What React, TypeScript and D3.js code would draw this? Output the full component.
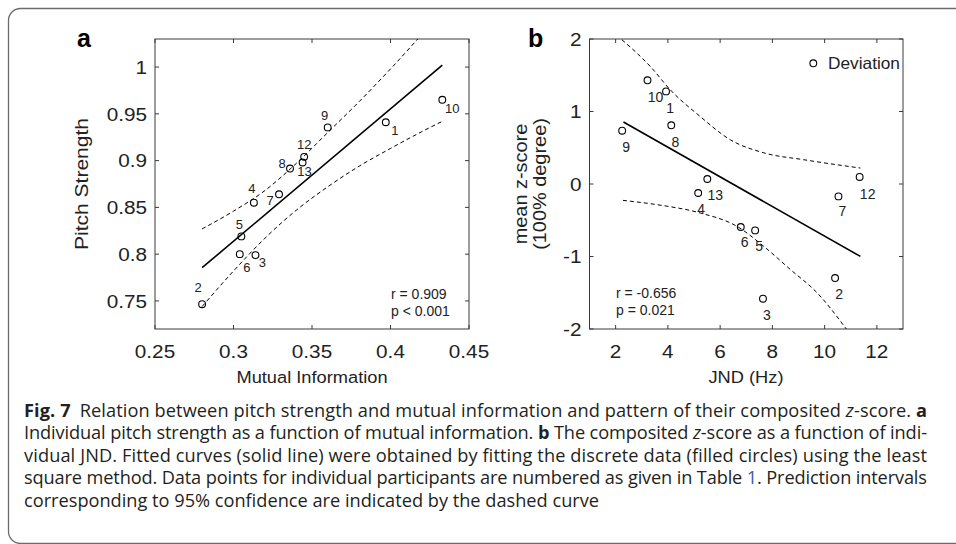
import React from "react";
import * as d3 from "d3";

// ---------- Panel a data ----------
const aIds = [1, 2, 3, 4, 5, 6, 7, 8, 9, 10, 12, 13];
const aMutualInfo = [0.397, 0.28, 0.314, 0.313, 0.305, 0.304, 0.329, 0.336, 0.36, 0.433, 0.345, 0.344];
const aPitchStrength = [0.941, 0.7465, 0.799, 0.855, 0.819, 0.8, 0.864, 0.8915, 0.9355, 0.965, 0.904, 0.898];
const aFitX = [0.28, 0.433];
const aFitY = [0.7855, 1.002];
const aBandX = [0.28, 0.3, 0.32, 0.34, 0.36, 0.38, 0.4, 0.42, 0.433];
const aUpperY = [0.827, 0.846, 0.868, 0.897, 0.93, 0.963, 0.998, 1.035, 1.06];
const aLowerY = [0.744, 0.782, 0.817, 0.847, 0.872, 0.894, 0.913, 0.931, 0.942];
const aXTicks = [0.25, 0.3, 0.35, 0.4, 0.45];
const aXTickLabels = ["0.25", "0.3", "0.35", "0.4", "0.45"];
const aYTicks = [0.75, 0.8, 0.85, 0.9, 0.95, 1];
const aYTickLabels = ["0.75", "0.8", "0.85", "0.9", "0.95", "1"];
const aStats = ["r = 0.909", "p < 0.001"];

// ---------- Panel b data ----------
const bIds = [1, 2, 3, 4, 5, 6, 7, 8, 9, 10, 12, 13];
const bJND = [3.93, 10.4, 7.64, 5.16, 7.34, 6.79, 10.53, 4.13, 2.25, 3.22, 11.34, 5.51];
const bZScore = [1.277, -1.297, -1.582, -0.124, -0.64, -0.593, -0.171, 0.81, 0.735, 1.43, 0.097, 0.069];
const bFitX = [2.3, 11.37];
const bFitY = [0.855, -0.999];
const bUpperX = [2.24, 3.33, 4.09, 5.24, 6.39, 7.67, 9.2, 11.37];
const bUpperY = [1.99, 1.62, 1.3, 0.93, 0.61, 0.43, 0.335, 0.22];
const bLowerX = [2.28, 3.58, 5.24, 6.65, 7.67, 8.69, 9.71, 10.83];
const bLowerY = [-0.226, -0.285, -0.4, -0.585, -0.86, -1.18, -1.5, -2.0];
const bXTicks = [2, 4, 6, 8, 10, 12];
const bXTickLabels = ["2", "4", "6", "8", "10", "12"];
const bYTicks = [-2, -1, 0, 1, 2];
const bYTickLabels = ["-2", "-1", "0", "1", "2"];
const bStats = ["r = -0.656", "p = 0.021"];
const bLegend = "Deviation";

// ---------- caption ----------
const captionLines = [
  [
    { t: "Fig. 7", b: true },
    { t: "Relation between pitch strength and mutual information and pattern of their composited ", gap: 9 },
    { t: "z", i: true },
    { t: "-score. " },
    { t: "a", b: true },
  ],
  [
    { t: "Individual pitch strength as a function of mutual information. " },
    { t: "b", b: true },
    { t: " The composited " },
    { t: "z", i: true },
    { t: "-score as a function of indi-" },
  ],
  [{ t: "vidual JND. Fitted curves (solid line) were obtained by fitting the discrete data (filled circles) using the least" }],
  [
    { t: "square method. Data points for individual participants are numbered as given in Table " },
    { t: "1", link: true },
    { t: ". Prediction intervals" },
  ],
  [{ t: "corresponding to 95% confidence are indicated by the dashed curve" }],
];

// ---------- layout (not data) ----------
const W = 956;
const H = 544;
const TOP = 39;
const BOTTOM = 329;
const ARIAL = "'Liberation Sans', Arial, Helvetica, sans-serif";
const CAP = "'Open Sans', 'Noto Sans', sans-serif";
const aLabelOff: Record<number, [number, number]> = {
  1: [9, 8], 2: [-4, -17], 3: [7, 7], 4: [-2, -14], 5: [-2, -12], 6: [7, 13],
  7: [-9, 6], 8: [-8, -5], 9: [-3, -12], 10: [10, 9], 12: [0, -13], 13: [2, 9],
};
const bLabelOff: Record<number, [number, number]> = {
  1: [4, 17], 2: [4, 16], 3: [4, 16], 4: [3, 16], 5: [4, 16], 6: [4, 15],
  7: [4, 15], 8: [4, 17], 9: [4, 16], 10: [8, 17], 12: [8, 17], 13: [8, 16],
};

function T(props: any) {
  const { x, y, children, size, anchor = "start", sx = 1, rot = 0, weight = "normal", family = ARIAL, fill = "#222", dy } = props;
  return (
    <text
      transform={`translate(${x},${y}) rotate(${rot}) scale(${sx},1)`}
      fontSize={size}
      textAnchor={anchor}
      fontFamily={family}
      fontWeight={weight}
      fill={fill}
      dy={dy}
    >
      {children}
    </text>
  );
}

function Axes(props: any) {
  const { x, y, xTicks, xLabels, yTicks, yLabels } = props;
  const [x0, x1] = x.range();
  const tl = 4;
  return (
    <g>
      <rect x={x0} y={TOP} width={x1 - x0} height={BOTTOM - TOP} fill="none" stroke="#3a3a3a" strokeWidth={1} />
      {xTicks.map((t: number, i: number) => (
        <g key={"xt" + i}>
          <line x1={x(t)} x2={x(t)} y1={BOTTOM} y2={BOTTOM - tl} stroke="#3a3a3a" />
          <line x1={x(t)} x2={x(t)} y1={TOP} y2={TOP + tl} stroke="#3a3a3a" />
          <T x={x(t)} y={358} size={18.5} anchor="middle" sx={1.12}>{xLabels[i]}</T>
        </g>
      ))}
      {yTicks.map((t: number, i: number) => (
        <g key={"yt" + i}>
          <line x1={x0} x2={x0 + tl} y1={y(t)} y2={y(t)} stroke="#3a3a3a" />
          <line x1={x1} x2={x1 - tl} y1={y(t)} y2={y(t)} stroke="#3a3a3a" />
          <T x={x0 - 8} y={y(t)} dy="0.36em" size={18.5} anchor="end" sx={1.12}>{yLabels[i]}</T>
        </g>
      ))}
    </g>
  );
}

export default function App() {
  // Panel a scales
  const ax = d3.scaleLinear().domain([0.25, 0.45]).range([155, 469]);
  const ay = d3.scaleLinear().domain([0.72, 1.03]).range([BOTTOM, TOP]);
  // Panel b scales
  const bx = d3.scaleLinear().domain([1, 13]).range([589.5, 903]);
  const by = d3.scaleLinear().domain([-2, 2]).range([BOTTOM, TOP]);

  const lineA = d3.line<[number, number]>().x((d) => ax(d[0])).y((d) => ay(d[1]));
  const curveA = d3.line<[number, number]>().x((d) => ax(d[0])).y((d) => ay(d[1])).curve(d3.curveMonotoneX);
  const lineB = d3.line<[number, number]>().x((d) => bx(d[0])).y((d) => by(d[1]));
  const curveB = d3.line<[number, number]>().x((d) => bx(d[0])).y((d) => by(d[1])).curve(d3.curveMonotoneX);

  const aFit = d3.zip(aFitX, aFitY) as [number, number][];
  const aUp = d3.zip(aBandX, aUpperY) as [number, number][];
  const aLo = d3.zip(aBandX, aLowerY) as [number, number][];
  const bFit = d3.zip(bFitX, bFitY) as [number, number][];
  const bUp = d3.zip(bUpperX, bUpperY) as [number, number][];
  const bLo = d3.zip(bLowerX, bLowerY) as [number, number][];

  const capY = [416.5, 439, 461.5, 484, 506.5];

  return (
    <div style={{ position: "absolute", left: 0, top: 0 }}>
      <svg width={W} height={H} viewBox={`0 0 ${W} ${H}`} style={{ display: "block", background: "#fff" }}>
        <defs>
          <clipPath id="clipA">
            <rect x={155} y={TOP} width={314} height={BOTTOM - TOP} />
          </clipPath>
          <clipPath id="clipB">
            <rect x={589.5} y={TOP} width={313.5} height={BOTTOM - TOP} />
          </clipPath>
        </defs>
        {/* frame */}
        <rect x={8.5} y={8.5} width={1000} height={535} rx={12} ry={12} fill="none" stroke="#6b6b6b" strokeWidth={1.3} />

        {/* ---------- Panel a ---------- */}
        <T x={77} y={47} size={25} weight="bold" fill="#000">a</T>
        <Axes x={ax} y={ay} xTicks={aXTicks} xLabels={aXTickLabels} yTicks={aYTicks} yLabels={aYTickLabels} />
        <g clipPath="url(#clipA)">
          <path d={curveA(aUp) || ""} fill="none" stroke="#000" strokeWidth={1} strokeDasharray="4 3" />
          <path d={curveA(aLo) || ""} fill="none" stroke="#000" strokeWidth={1} strokeDasharray="4 3" />
          <path d={lineA(aFit) || ""} fill="none" stroke="#000" strokeWidth={1.6} />
        </g>
        {aIds.map((id, i) => (
          <g key={"ap" + id}>
            <circle cx={ax(aMutualInfo[i])} cy={ay(aPitchStrength[i])} r={3.4} fill="none" stroke="#000" strokeWidth={1.1} />
            <T x={ax(aMutualInfo[i]) + aLabelOff[id][0]} y={ay(aPitchStrength[i]) + aLabelOff[id][1]} dy="0.36em" size={13} anchor="middle">
              {String(id)}
            </T>
          </g>
        ))}
        {aStats.map((s, i) => (
          <T key={"as" + i} x={391} y={299 + i * 17} size={14}>{s}</T>
        ))}
        <T x={312} y={383} size={16.3} anchor="middle" sx={1.12}>Mutual Information</T>
        <T x={88} y={184} size={17.8} anchor="middle" sx={1.18} rot={-90}>Pitch Strength</T>

        {/* ---------- Panel b ---------- */}
        <T x={528} y={47} size={25} weight="bold" fill="#000">b</T>
        <Axes x={bx} y={by} xTicks={bXTicks} xLabels={bXTickLabels} yTicks={bYTicks} yLabels={bYTickLabels} />
        <g clipPath="url(#clipB)">
          <path d={curveB(bUp) || ""} fill="none" stroke="#000" strokeWidth={1} strokeDasharray="4 3" />
          <path d={curveB(bLo) || ""} fill="none" stroke="#000" strokeWidth={1} strokeDasharray="4 3" />
          <path d={lineB(bFit) || ""} fill="none" stroke="#000" strokeWidth={1.6} />
        </g>
        {bIds.map((id, i) => (
          <g key={"bp" + id}>
            <circle cx={bx(bJND[i])} cy={by(bZScore[i])} r={3.4} fill="none" stroke="#000" strokeWidth={1.1} />
            <T x={bx(bJND[i]) + bLabelOff[id][0]} y={by(bZScore[i]) + bLabelOff[id][1]} dy="0.36em" size={14} anchor="middle">
              {String(id)}
            </T>
          </g>
        ))}
        {bStats.map((s, i) => (
          <T key={"bs" + i} x={616} y={298 + i * 17} size={14}>{s}</T>
        ))}
        <circle cx={813.3} cy={63.3} r={3.4} fill="none" stroke="#000" strokeWidth={1.1} />
        <T x={828} y={63.3} dy="0.36em" size={16.3} sx={1.06}>{bLegend}</T>
        <T x={746} y={383} size={16.3} anchor="middle" sx={1.12}>JND (Hz)</T>
        <T x={527} y={184} size={17.8} anchor="middle" sx={1.12} rot={-90}>mean z-score</T>
        <T x={546} y={184} size={17.8} anchor="middle" sx={1.12} rot={-90}>(100% degree)</T>

        {/* ---------- caption ---------- */}
        {captionLines.map((parts, li) => (
          <text
            key={"cap" + li}
            x={24}
            y={capY[li]}
            fontFamily={CAP}
            fontSize={18.2}
            fill="#231f20"
            textLength={li < 4 ? 903 : undefined}
            lengthAdjust="spacing"
          >
            {parts.map((p: any, pi: number) => (
              <tspan
                key={pi}
                dx={p.gap || undefined}
                fontWeight={p.b ? "bold" : undefined}
                fontStyle={p.i ? "italic" : undefined}
                fill={p.link ? "#3b5bb5" : undefined}
              >
                {p.t}
              </tspan>
            ))}
          </text>
        ))}
      </svg>
    </div>
  );
}
